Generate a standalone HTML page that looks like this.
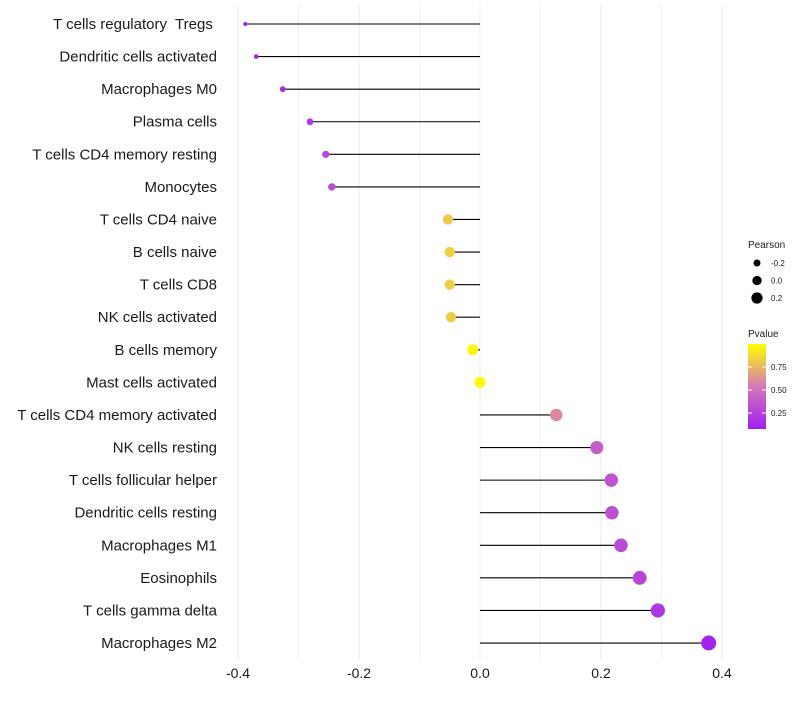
<!DOCTYPE html>
<html><head><meta charset="utf-8"><style>
body{margin:0;background:#fff;font-family:"Liberation Sans",sans-serif}
</style></head><body>
<svg id="chart" width="800" height="700" xmlns="http://www.w3.org/2000/svg" font-family="Liberation Sans, sans-serif"></svg>
<script>
const categories=["T cells regulatory  Tregs ","Dendritic cells activated","Macrophages M0","Plasma cells","T cells CD4 memory resting","Monocytes","T cells CD4 naive","B cells naive","T cells CD8","NK cells activated","B cells memory","Mast cells activated","T cells CD4 memory activated","NK cells resting","T cells follicular helper","Dendritic cells resting","Macrophages M1","Eosinophils","T cells gamma delta","Macrophages M2"];
const pearson=[-0.388,-0.370,-0.326,-0.281,-0.255,-0.245,-0.053,-0.050,-0.050,-0.048,-0.012,0.0,0.126,0.193,0.217,0.218,0.233,0.264,0.294,0.378];
const pvalue=[0.08,0.1,0.14,0.2,0.3,0.32,0.82,0.84,0.83,0.83,0.97,0.99,0.6,0.4,0.35,0.33,0.3,0.27,0.2,0.09];
const xTicks=[-0.4,-0.2,0.0,0.2,0.4];
const sizeBreaks=[-0.2,0.0,0.2];
const colorBreaks=[0.25,0.5,0.75];
const NS="http://www.w3.org/2000/svg";
const svg=document.getElementById('chart');
function mk(t,a,p){const e=document.createElementNS(NS,t);for(const k in a)e.setAttribute(k,a[k]);(p||svg).appendChild(e);return e;}
const x=v=>480+v*605;
const y=i=>24+i*32.58;
const r=v=>Math.sqrt(Math.max(1,30.3+67.5*v));
function lerp(a,b,t){return a.map((c,i)=>Math.round(c+(b[i]-c)*t));}
function col(p){const lo=[160,32,240],mid=[212,120,184],hi=[255,255,0];
 const t=Math.max(0,Math.min(1,(p-0.076)/(1-0.076)));
 const c=t<0.5?lerp(lo,mid,t*2):lerp(mid,hi,(t-0.5)*2);return `rgb(${c})`;}
const grid=mk('g',{});
for(let k=-4;k<=4;k++){mk('line',{x1:x(k/10),x2:x(k/10),y1:5,y2:660,stroke:k%2==0?'#ebebeb':'#f3f3f3','stroke-width':1},grid);}
categories.forEach((c,i)=>{
 const t=mk('text',{x:217,y:y(i)+5,'text-anchor':'end','font-size':15,fill:'#1a1a1a',style:'white-space:pre'});t.textContent=c;
 
 const l=mk('line',{x1:x(0),x2:x(pearson[i]),y1:y(i),y2:y(i),stroke:'#000','stroke-width':1.1});
 
 const d=mk('circle',{cx:x(pearson[i]),cy:y(i),r:r(pearson[i]),fill:col(pvalue[i])});
 
});
xTicks.forEach(v=>{const t=mk('text',{x:x(v),y:678,'text-anchor':'middle','font-size':14,fill:'#1a1a1a'});t.textContent=v.toFixed(1);
 });
const lt=mk('text',{x:748,y:248,'font-size':10,fill:'#1a1a1a'});lt.textContent='Pearson';

sizeBreaks.forEach((v,i)=>{const cy=263+i*17.5;
 const c=mk('circle',{cx:757,cy:cy,r:r(v)*0.85,fill:'#000'});
 const t=mk('text',{x:771,y:cy+3,'font-size':8,fill:'#1a1a1a'});t.textContent=v.toFixed(1);
 });
const ct=mk('text',{x:748,y:337,'font-size':10,fill:'#1a1a1a'});ct.textContent='Pvalue';

const defs=mk('defs',{});const gr=mk('linearGradient',{id:'g',x1:0,y1:1,x2:0,y2:0},defs);
[0,0.25,0.5,0.75,1].forEach(s=>mk('stop',{offset:s,'stop-color':col(0.076+s*0.924)},gr));
const bar=mk('rect',{x:748,y:344,width:18,height:85,fill:'url(#g)'});

colorBreaks.forEach(v=>{const yy=367+(0.75-v)*92;
 mk('line',{x1:748,x2:752,y1:yy,y2:yy,stroke:'#fff'});mk('line',{x1:762,x2:766,y1:yy,y2:yy,stroke:'#fff'});
 const t=mk('text',{x:771,y:yy+3,'font-size':8,fill:'#1a1a1a'});t.textContent=v.toFixed(2);
 });
</script>
</body></html>
